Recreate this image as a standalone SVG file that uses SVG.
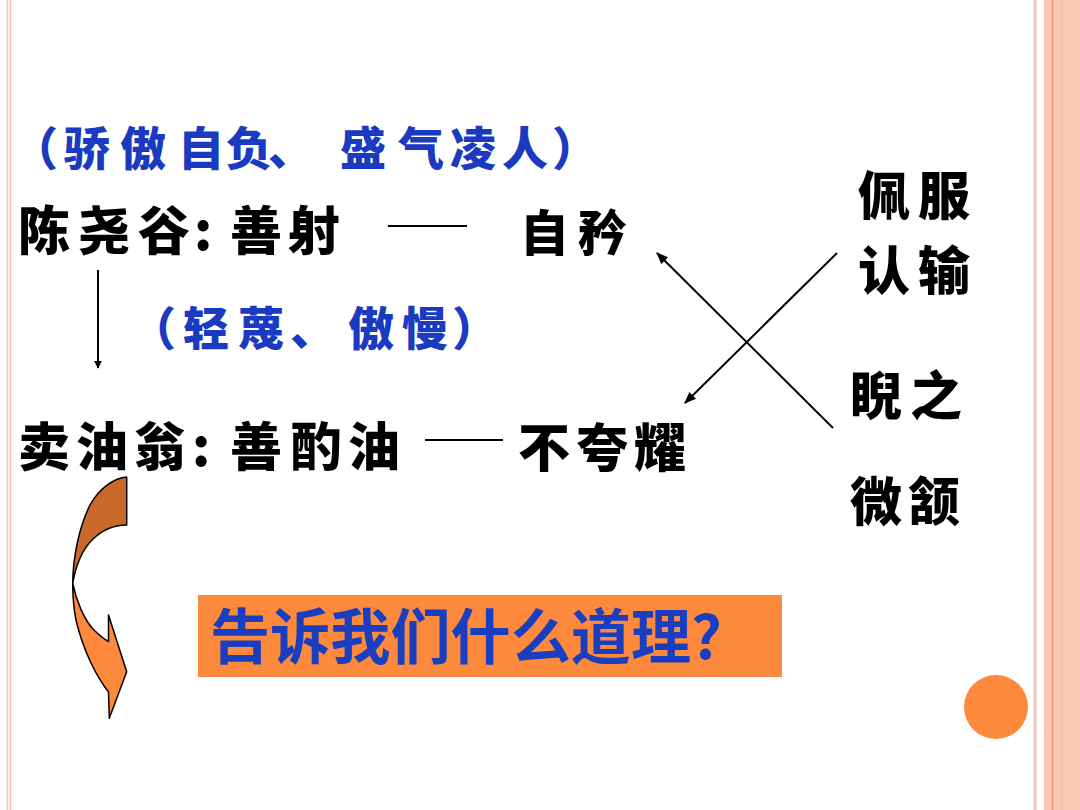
<svg xmlns="http://www.w3.org/2000/svg" width="1080" height="810" viewBox="0 0 1080 810">
<defs>
<style>
.blk{font-family:"Noto Sans CJK SC","Noto Sans CJK TC",sans-serif;font-weight:900;fill:#000;}
.blu{font-family:"Noto Sans CJK SC",sans-serif;font-weight:900;fill:#1a3bc1;font-size:46px;}
.conn{stroke:#000;stroke-width:2;fill:none;}
</style>
<marker id="ah" viewBox="0 0 10 10" refX="9" refY="5" markerWidth="8" markerHeight="8" markerUnits="userSpaceOnUse" orient="auto">
<path d="M0,0 L10,5 L0,10 Z" fill="#000"/>
</marker>
<marker id="ah2" viewBox="0 0 10 10" refX="9" refY="5" markerWidth="12" markerHeight="12" markerUnits="userSpaceOnUse" orient="auto">
<path d="M0,1 L10,5 L0,9 Z" fill="#000"/>
</marker>
</defs>
<rect width="1080" height="810" fill="#ffffff"/>
<g id="frame">
<line x1="7.5" y1="0" x2="7.5" y2="810" stroke="#f4c0b0" stroke-width="1.5"/>
<line x1="10.5" y1="0" x2="10.5" y2="810" stroke="#f4c0b0" stroke-width="1.5"/>
<line x1="1035" y1="0" x2="1035" y2="810" stroke="#efc8c0" stroke-width="3"/>
<rect x="1044" y="0" width="36" height="810" fill="#fac8b4"/>
<line x1="1052.5" y1="0" x2="1052.5" y2="810" stroke="#f0905a" stroke-width="1.5"/>
<line x1="1062" y1="0" x2="1062" y2="810" stroke="#f2b8a0" stroke-width="1"/>
<circle cx="996" cy="707" r="32" fill="#fd8a3c"/>
</g>
<g id="note1"><text class="blu" x="12 64 120 178 226 268 340 398 450 502 552" y="165">（骄傲自负、盛气凌人）</text></g>
<g id="chen"><text class="blk" font-size="52" x="18 78 138 194 230 288" y="250">陈尧谷:善射</text></g>
<g id="zijin"><text class="blk" font-size="49" x="520 578" y="251">自矜</text></g>
<g id="note2"><text class="blu" x="130 183 238 290 348 402 452" y="345">（轻蔑、傲慢）</text></g>
<g id="maiyou"><text class="blk" font-size="52" x="18 76 134 192 230 290 348" y="466">卖油翁:善酌油</text></g>
<g id="buku"><text class="blk" font-size="52" x="518 576 634" y="467">不夸耀</text></g>
<g id="peifu"><text class="blk" font-size="52" x="858 918" y="215">佩服</text><text class="blk" font-size="52" x="858 918" y="290">认输</text></g>
<g id="nizhi"><text class="blk" font-size="52" x="850 910" y="415">睨之</text></g>
<g id="weihan"><text class="blk" font-size="52" x="850 908" y="521">微颔</text></g>
<g id="connectors">
<line class="conn" x1="388" y1="226" x2="467" y2="226"/>
<line class="conn" x1="425" y1="440" x2="503" y2="440"/>
<line class="conn" x1="98" y1="270" x2="98" y2="368" stroke-width="1.5" marker-end="url(#ah)"/>
<line class="conn" x1="837" y1="253" x2="685" y2="403" stroke-width="1.6" marker-end="url(#ah2)"/>
<line class="conn" x1="833" y1="428" x2="657" y2="253" stroke-width="1.6" marker-end="url(#ah2)"/>
</g>
<g id="curved-arrow" stroke="#000" stroke-width="1.5" stroke-linejoin="round">
<path d="M108.5,641.5 L108.5,615 L126.7,671.7 L109.3,718.3 L108.5,692 C96,676 83,650 76,620 C73,605 72.7,595 72.7,583 C76,600 84,620 94,630 C100,636 104,639 108.5,641.5 Z" fill="#fd8a3c"/>
<path d="M126.7,477 C115,478 100,487 90,505 C80,525 73,555 72.7,583 C76,565 82,550 92,540 C102,530 114,525 126.7,525 Z" fill="#c8692a"/>
</g>
<g id="question">
<rect x="198" y="595" width="584" height="82" fill="#fd8a3c"/>
<text x="210" y="659" font-family="'Noto Sans CJK SC',sans-serif" font-weight="700" font-size="60" fill="#1a3ec0" textLength="512" lengthAdjust="spacingAndGlyphs">告诉我们什么道理?</text>
</g>
</svg>
